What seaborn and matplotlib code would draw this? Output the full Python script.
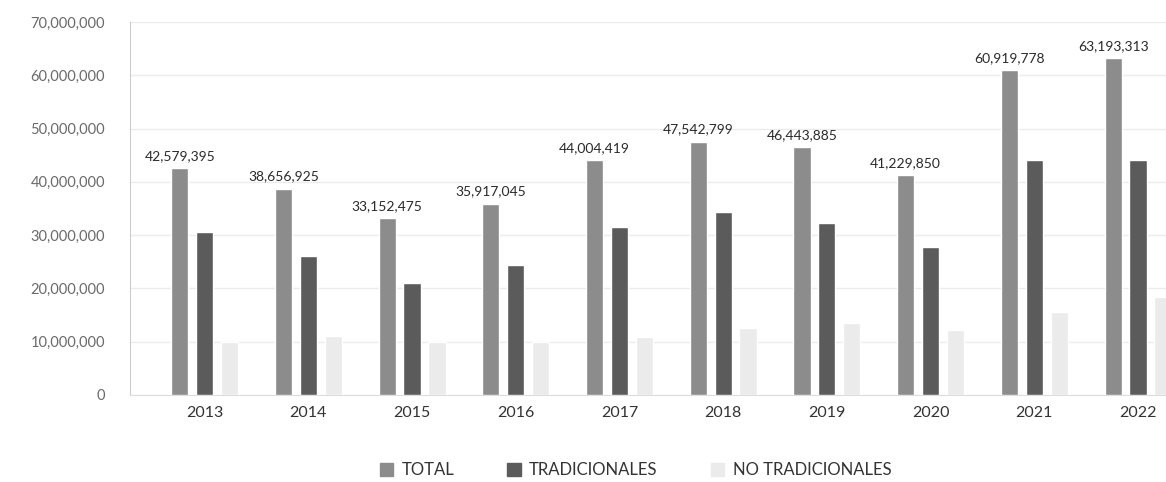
import matplotlib
matplotlib.use("Agg")
import matplotlib.pyplot as plt
import seaborn as sns
import pandas as pd
from matplotlib.ticker import FuncFormatter

years = ["2013", "2014", "2015", "2016", "2017", "2018", "2019", "2020", "2021", "2022"]
total = [42579395, 38656925, 33152475, 35917045, 44004419, 47542799, 46443885, 41229850, 60919778, 63193313]
tradicionales = [30600000, 26000000, 21100000, 24300000, 31500000, 34300000, 32300000, 27700000, 44000000, 44000000]
no_tradicionales = [10000000, 11100000, 10000000, 10000000, 10900000, 12600000, 13600000, 12200000, 15500000, 18300000]
series = ["TOTAL", "TRADICIONALES", "NO TRADICIONALES"]
colores = ["#8c8c8c", "#5b5b5b", "#ebebeb"]

df = pd.DataFrame({"year": years, "TOTAL": total,
                   "TRADICIONALES": tradicionales,
                   "NO TRADICIONALES": no_tradicionales})
df = df.melt(id_vars="year", var_name="serie", value_name="valor")

sns.set_style("white")
plt.rcParams["font.family"] = ["Lato", "DejaVu Sans"]

fig = plt.figure(figsize=(11.66, 4.82), dpi=100)
ax = fig.add_axes([0.1115, 0.1805, 0.8885, 0.774])

sns.barplot(data=df, x="year", y="valor", hue="serie", hue_order=series,
            palette=colores, width=0.72, gap=0.31, ax=ax, legend=False,
            saturation=1, zorder=3)

# etiquetas sobre TOTAL
for i, v in enumerate(total):
    ax.text(i - 0.24, v + 1200000, f"{v:,}", ha="center", va="bottom",
            fontsize=10, color="#2a2a2a")

ax.set_ylim(0, 70000000)
ax.set_xlim(-0.72, 9.27)
ax.set_yticks(range(0, 70000001, 10000000))
ax.yaxis.set_major_formatter(FuncFormatter(lambda v, p: f"{int(v):,}"))
ax.grid(axis="y", color="#ececec", linewidth=1, zorder=0)
ax.set_xlabel("")
ax.set_ylabel("")
for s in ["top", "right"]:
    ax.spines[s].set_visible(False)
ax.spines["left"].set_color("#cccccc")
ax.spines["bottom"].set_color("#dddddd")
ax.tick_params(axis="y", length=14, color="#dddddd", labelsize=10.5,
               labelcolor="#6a6a6a", pad=4)
ax.tick_params(axis="x", length=0, labelsize=11.5, labelcolor="#333333", pad=8)

handles = [plt.Rectangle((0, 0), 1, 1, color=c) for c in colores]
fig.legend(handles, series, loc="center", bbox_to_anchor=(0.545, 0.025),
           ncol=3, frameon=False, fontsize=12, handlelength=0.8,
           handleheight=0.8, columnspacing=3.2, handletextpad=0.5,
           labelcolor="#333333")

fig.savefig("out.png", dpi=100)
